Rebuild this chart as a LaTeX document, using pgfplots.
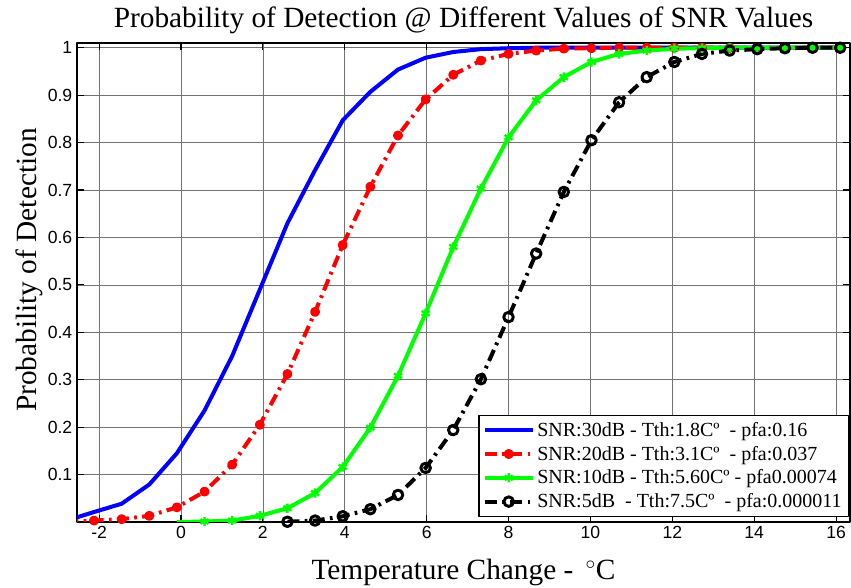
\documentclass[border=0pt]{standalone}
\usepackage{fontspec}
\setmainfont{Liberation Serif}
\setsansfont{Liberation Sans}
\usepackage{pgfplots}
\pgfplotsset{compat=1.18}
\pgfplotstableread{
x y
-2.8 0.003
-2.125 0.021
-1.45 0.0385
-0.775 0.079
-0.1 0.145
0.575 0.235
1.25 0.35
1.925 0.49
2.6 0.63
3.275 0.742
3.95 0.847
4.625 0.907
5.3 0.954
5.975 0.979
6.65 0.991
7.325 0.997
8.0 0.999
8.675 1.0
9.35 1.0
10.025 1.0
10.7 1.0
11.375 1.0
12.05 1.0
12.725 1.0
13.4 1.0
14.075 1.0
14.75 1.0
15.425 1.0
16.1 1.0
}\snrthirty
\pgfplotstableread{
x y
-2.8 0.001
-2.125 0.003
-1.45 0.006
-0.775 0.013
-0.1 0.031
0.575 0.064
1.25 0.121
1.925 0.205
2.6 0.312
3.275 0.443
3.95 0.584
4.625 0.707
5.3 0.815
5.975 0.891
6.65 0.943
7.325 0.973
8.0 0.987
8.675 0.994
9.35 0.998
10.025 0.999
10.7 1.0
11.375 1.0
12.05 1.0
12.725 1.0
13.4 1.0
14.075 1.0
14.75 1.0
15.425 1.0
16.1 1.0
}\snrtwenty
\pgfplotstableread{
x y
-0.1 0.0
0.575 0.001
1.25 0.003
1.925 0.013
2.6 0.029
3.275 0.061
3.95 0.116
4.625 0.199
5.3 0.308
5.975 0.44
6.65 0.58
7.325 0.703
8.0 0.811
8.675 0.889
9.35 0.938
10.025 0.970
10.7 0.987
11.375 0.994
12.05 0.998
12.725 0.999
13.4 1.0
14.075 1.0
14.75 1.0
15.425 1.0
16.1 1.0
}\snrten
\pgfplotstableread{
x y
2.6 0.0005
3.275 0.003
3.95 0.012
4.625 0.027
5.3 0.057
5.975 0.114
6.65 0.194
7.325 0.301
8.0 0.432
8.675 0.566
9.35 0.696
10.025 0.805
10.7 0.885
11.375 0.938
12.05 0.970
12.725 0.987
13.4 0.994
14.075 0.997
14.75 0.999
15.425 1.0
16.1 1.0
}\snrfive
\begin{document}
\begin{tikzpicture}
\begin{axis}[
  at={(0,0)}, anchor=south west,
  scale only axis,
  width=579.75pt, height=359.25pt,
  xmin=-2.54, xmax=16.34, ymin=0, ymax=1.01,
  xtick={-2,0,2,4,6,8,10,12,14,16},
  ytick={0.1,0.2,0.3,0.4,0.5,0.6,0.7,0.8,0.9,1},
  grid=major,
  grid style={black!55, line width=0.5pt},
  axis line style={line width=1pt},
  tick style={black, line width=0.8pt},
  major tick length=5pt,
  tick align=inside,
  tick label style={font=\fontsize{13.2}{15}\sffamily},
  /pgf/number format/assume math mode=true,
  title={Probability of Detection @ Different Values of SNR Values},
  title style={font=\fontsize{22}{26}\selectfont, at={(axis description cs:0.5,1)}, anchor=base, yshift=5.25pt},
  xlabel={Temperature Change - \,$^{\circ}$C},
  xlabel style={font=\fontsize{22}{26}\selectfont, at={(axis description cs:0.5,0)}, anchor=base, yshift=-43.5pt},
  ylabel={Probability of Detection},
  ylabel style={font=\fontsize{22}{26}\selectfont, at={(axis description cs:-0.053,0.526)}, anchor=base},
  legend style={at={(axis description cs:1,0)}, anchor=south east, xshift=-0.75pt, yshift=3.75pt,
    font=\fontsize{15}{17}\selectfont, draw=black, line width=1pt, fill=white, row sep=1.8pt,
    inner ysep=3pt},
  legend cell align=left,
  legend image code/.code={\draw[mark repeat=2, mark phase=2] plot coordinates {(0cm,0cm) (0.63cm,0cm) (1.26cm,0cm)};},
  line join=round,
]
\addplot[blue, line width=3pt] table {\snrthirty};
\addlegendentry{SNR:30dB - Tth:1.8Cº\ \ - pfa:0.16}
\addplot[red, line width=3pt, dash pattern=on 9pt off 4pt on 2pt off 4pt, mark=*, mark size=2.2pt, mark options={solid}] table {\snrtwenty};
\addlegendentry{SNR:20dB - Tth:3.1Cº\ \ - pfa:0.037}
\addplot[green, line width=3pt, mark=asterisk, mark size=3.5pt, mark phase=2, mark repeat=1, mark options={solid, line width=1.8pt}] table {\snrten};
\addlegendentry{SNR:10dB - Tth:5.60Cº - pfa0.00074}
\addplot[black, line width=3pt, dash pattern=on 9pt off 4pt on 2pt off 4pt, mark=o, mark size=3.6pt, mark options={solid, fill=white, line width=2.2pt}] table {\snrfive};
\addlegendentry{SNR:5dB\ \ - Tth:7.5Cº\ \ - pfa:0.000011}
\end{axis}
\pgfresetboundingbox
\useasboundingbox (-57.75pt,-49.5pt) rectangle (580.5pt,391.5pt);
\end{tikzpicture}
\end{document}
